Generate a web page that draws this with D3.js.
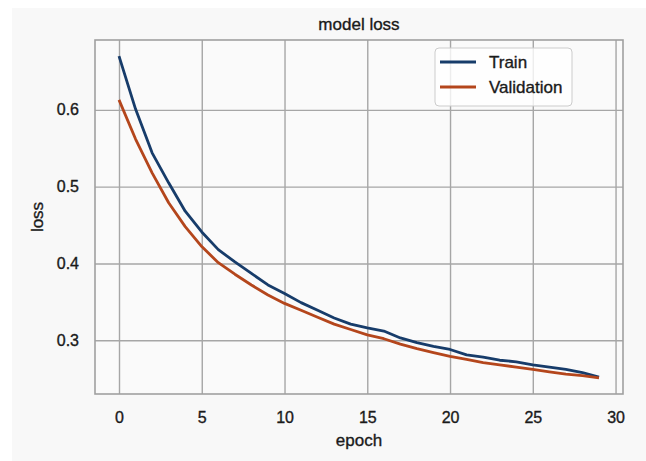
<!DOCTYPE html>
<html>
<head>
<meta charset="utf-8">
<script src="https://cdn.jsdelivr.net/npm/d3@7"></script>
<style>
  html, body { margin: 0; padding: 0; background: #ffffff; }
  svg { display: block; font-family: "Liberation Sans", Arial, sans-serif; }
  svg text { fill: #1a1a1a; stroke: #1a1a1a; stroke-width: 0.35px; }
</style>
</head>
<body>
<div id="chart"></div>
<script>
const epochs = d3.range(0, 30);
const trainLoss = [0.670, 0.601, 0.544, 0.505, 0.468, 0.441, 0.418, 0.402, 0.387, 0.372,
                   0.361, 0.349, 0.339, 0.329, 0.321, 0.316, 0.312, 0.303, 0.297, 0.292,
                   0.288, 0.281, 0.278, 0.274, 0.272, 0.268, 0.265, 0.262, 0.258, 0.252];
const valLoss = [0.613, 0.562, 0.518, 0.479, 0.448, 0.422, 0.401, 0.386, 0.372, 0.359,
                 0.348, 0.339, 0.330, 0.321, 0.314, 0.307, 0.302, 0.295, 0.289, 0.284,
                 0.279, 0.275, 0.271, 0.268, 0.265, 0.262, 0.259, 0.256, 0.254, 0.251];
const xTicks = [0, 5, 10, 15, 20, 25, 30];
const yTicks = [0.3, 0.4, 0.5, 0.6];
const seriesNames = ["Train", "Validation"];
const colors = ["#173c6a", "#b4461c"];

const width = 646, height = 461;
const margin = {top: 40, right: 23, bottom: 67, left: 95};

const svg = d3.select("#chart").append("svg")
    .attr("width", width)
    .attr("height", height);

// light grey figure panel
svg.append("rect")
    .attr("x", 12).attr("y", 8)
    .attr("width", width - 12).attr("height", height - 8)
    .attr("fill", "#f8f8f8");

// matplotlib-style 5% margins around the data
const xPad = (d3.max(epochs) - d3.min(epochs)) * 0.05;
const allY = trainLoss.concat(valLoss);
const yPad = (d3.max(allY) - d3.min(allY)) * 0.05;

const x = d3.scaleLinear()
    .domain([d3.min(epochs) - xPad, d3.max(epochs) + xPad])
    .range([margin.left, width - margin.right]);
const y = d3.scaleLinear()
    .domain([d3.min(allY) - yPad, d3.max(allY) + yPad])
    .range([height - margin.bottom, margin.top]);

svg.append("rect")
    .attr("x", margin.left).attr("y", margin.top)
    .attr("width", width - margin.left - margin.right)
    .attr("height", height - margin.top - margin.bottom)
    .attr("fill", "#fafafa");

// grid
const xAxis = d3.axisBottom(x)
    .tickValues(xTicks)
    .tickSize(-(height - margin.top - margin.bottom))
    .tickPadding(18)
    .tickFormat(d3.format("d"));
const yAxis = d3.axisLeft(y)
    .tickValues(yTicks)
    .tickSize(-(width - margin.left - margin.right))
    .tickPadding(16)
    .tickFormat(d3.format(".1f"));

const gx = svg.append("g")
    .attr("transform", `translate(0,${height - margin.bottom})`)
    .call(xAxis);
const gy = svg.append("g")
    .attr("transform", `translate(${margin.left},0)`)
    .call(yAxis);

[gx, gy].forEach(g => {
    g.select(".domain").remove();
    g.selectAll(".tick line").attr("stroke", "#a6a6a6").attr("stroke-width", 1.4);
    g.selectAll(".tick text")
        .attr("fill", "#1a1a1a")
        .style("font-size", "16px");
});

// spines
svg.append("rect")
    .attr("x", margin.left).attr("y", margin.top)
    .attr("width", width - margin.left - margin.right)
    .attr("height", height - margin.top - margin.bottom)
    .attr("fill", "none")
    .attr("stroke", "#a0a0a0")
    .attr("stroke-width", 1.6);

// lines
const line = d3.line()
    .x((d, i) => x(epochs[i]))
    .y(d => y(d));

[trainLoss, valLoss].forEach((s, k) => {
    svg.append("path")
        .datum(s)
        .attr("fill", "none")
        .attr("stroke", colors[k])
        .attr("stroke-width", 2.8)
        .attr("stroke-linejoin", "round")
        .attr("d", line);
});

// title and axis labels
svg.append("text")
    .attr("x", (margin.left + width - margin.right) / 2)
    .attr("y", 30)
    .attr("text-anchor", "middle")
    .style("font-size", "17px")
    .text("model loss");

svg.append("text")
    .attr("x", (margin.left + width - margin.right) / 2)
    .attr("y", 446)
    .attr("text-anchor", "middle")
    .style("font-size", "17px")
    .text("epoch");

svg.append("text")
    .attr("transform", `translate(43,${(margin.top + height - margin.bottom) / 2}) rotate(-90)`)
    .attr("text-anchor", "middle")
    .style("font-size", "17px")
    .text("loss");

// legend
const legend = svg.append("g").attr("transform", "translate(435,48)");
legend.append("rect")
    .attr("width", 137).attr("height", 58)
    .attr("rx", 4)
    .attr("fill", "#ffffff").attr("fill-opacity", 0.8)
    .attr("stroke", "#cccccc").attr("stroke-width", 1);

seriesNames.forEach((name, k) => {
    const row = legend.append("g").attr("transform", `translate(0,${14 + k * 25})`);
    row.append("line")
        .attr("x1", 5).attr("x2", 41)
        .attr("stroke", colors[k]).attr("stroke-width", 2.8);
    row.append("text")
        .attr("x", 54).attr("y", 6)
        .style("font-size", "17px")
        .text(name);
});
</script>
</body>
</html>
